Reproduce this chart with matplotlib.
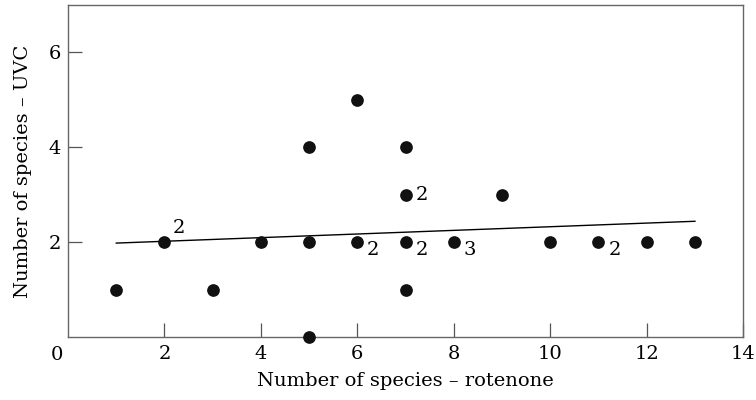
import numpy as np
import matplotlib
matplotlib.use("Agg")
import matplotlib.pyplot as plt

# observed (rotenone, UVC) pairs; count > 1 means stacked observations
rotenone = [1, 2, 3, 4, 5, 5, 5, 6, 6, 7, 7, 7, 7, 8, 9, 10, 11, 12, 13]
uvc = [1, 2, 1, 2, 4, 2, 0, 5, 2, 4, 3, 2, 1, 2, 3, 2, 2, 2, 2]
counts = [1, 2, 1, 1, 1, 1, 1, 1, 2, 1, 2, 2, 1, 3, 1, 1, 2, 1, 1]

# fitted line
fit_x = [1, 13]
fit_y = [1.98, 2.44]

x_ticks = [2, 4, 6, 8, 10, 12, 14]
y_ticks = [2, 4, 6]

plt.rcParams["font.family"] = ["DejaVu Serif"]

fig = plt.figure(figsize=(7.56, 4.0), dpi=100)
ax = fig.add_axes([0.09, 0.1575, 0.893, 0.83])

ax.plot(fit_x, fit_y, color="black", lw=1.0, zorder=2)
ax.scatter(rotenone, uvc, s=66, color="#111111", zorder=3, clip_on=False)

# multiplicity labels
for x, y, n in zip(rotenone, uvc, counts):
    if n < 2:
        continue
    if (x, y) == (2, 2):
        off = (6, 10)
    elif (x, y) == (7, 3):
        off = (7, 0)
    else:
        off = (7, -6)
    ax.annotate(str(n), (x, y), xytext=off, textcoords="offset points",
                fontsize=14, ha="left", va="center")

ax.set_xlim(0, 14)
ax.set_ylim(0, 7)
ax.set_xticks(x_ticks)
ax.set_yticks(y_ticks)
ax.tick_params(axis="both", direction="in", length=10, width=0.9,
               color="#555555", labelsize=14)
ax.tick_params(axis="x", pad=6)
ax.tick_params(axis="y", pad=5)
for sp in ax.spines.values():
    sp.set_color("#666666")
    sp.set_linewidth(1.0)

ax.text(-0.23, -0.38, "0", fontsize=14, ha="center", va="center",
        clip_on=False)

ax.set_xlabel("Number of species \u2013 rotenone", fontsize=14, labelpad=6)
ax.set_ylabel("Number of species \u2013 UVC", fontsize=14, labelpad=12)

fig.savefig("out.png", dpi=100)
